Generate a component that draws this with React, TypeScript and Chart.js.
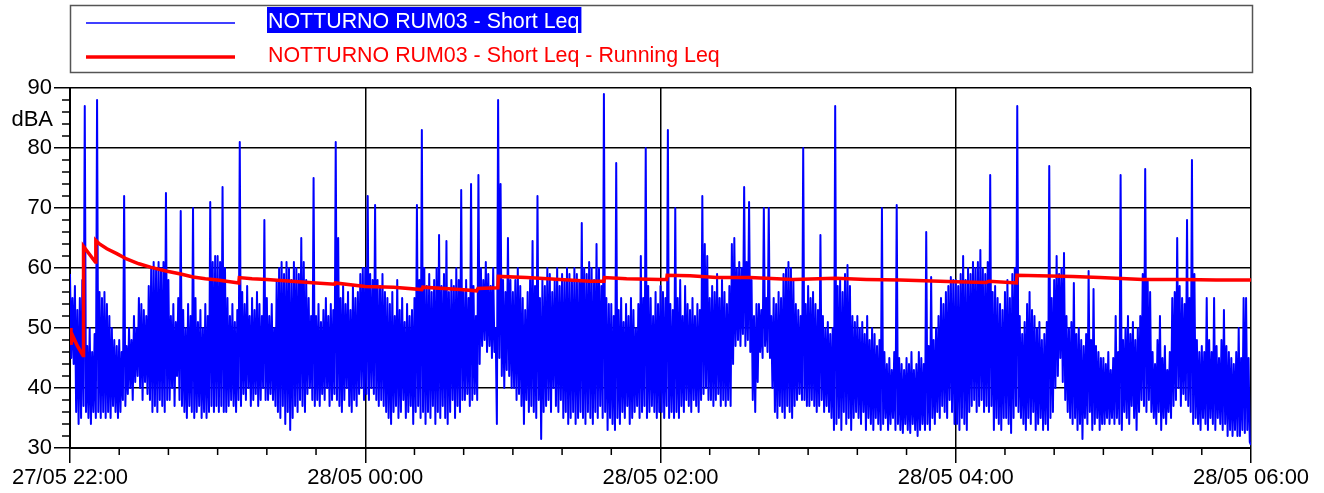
import React, { useEffect, useRef } from "react";
import { Chart, registerables } from "chart.js";

Chart.register(...registerables);

const FONT = '"Liberation Sans", Arial, Helvetica, sans-serif';

const seriesNames = [
  "NOTTURNO RUM03 - Short Leq",
  "NOTTURNO RUM03 - Short Leq - Running Leq",
];
const yUnit = "dBA";
const xTickValues = [0, 120, 240, 360, 480];
const xTickLabels = ["27/05 22:00", "28/05 00:00", "28/05 02:00", "28/05 04:00", "28/05 06:00"];

// Short Leq per minute from 27/05 22:00 (dBA): highest value in the minute
const shortLeqMax = [
  59, 55, 57, 53, 55, 58, 87, 47, 50, 46, 49, 88, 56, 55, 56, 54, 52, 50, 48, 47,
  48, 46, 72, 47, 50, 48, 52, 50, 55, 54, 53, 52, 57, 60, 61, 60, 61, 60, 61, 72.5,
  58, 52, 54, 51, 55, 69.5, 53, 50, 54, 52, 70, 55, 51, 53, 50, 54, 52, 71, 61, 62,
  62, 61, 73.5, 60, 55, 52, 54, 51, 53, 81, 56, 54, 57, 52, 55, 53, 56, 54, 52, 68,
  55, 52, 54, 50, 58, 60, 61, 59, 61, 60, 58, 61, 60, 59, 65, 61, 58, 55, 52, 75,
  52, 54, 51, 53, 55, 52, 54, 53, 81, 65, 55, 57, 54, 56, 53, 57, 55, 56, 59, 60,
  60, 72, 59, 58, 70.5, 58, 57, 59, 56, 55, 54, 56, 52, 58, 53, 55, 51, 54, 52, 53,
  55, 70.5, 58, 83, 60, 57, 59, 56, 58, 60, 65.5, 57, 59, 64.5, 56, 58, 57, 60, 58, 73,
  56, 58, 55, 74, 57, 52, 75.5, 60, 58, 61, 59, 57, 60, 50, 88, 74, 58, 56, 65, 58,
  56, 58, 60, 57, 55, 53, 56, 58, 64.5, 57, 72, 55, 58, 57, 60, 59, 56, 58, 60, 57,
  59, 58, 60, 59, 58, 60, 59, 58, 67.5, 60, 59, 61, 60, 58, 64, 60, 57, 89, 55, 54,
  54, 52, 77.5, 53, 55, 51, 54, 52, 55, 53, 50, 54, 62, 55, 80, 57, 55, 52, 56, 54,
  57, 56, 55, 83, 54, 53, 70, 55, 58, 52, 57, 54, 53, 55, 52, 54, 53, 72, 64, 62,
  55, 57, 56, 59, 55, 58, 56, 54, 57, 64, 65, 60, 61, 60, 73.5, 61, 71, 58, 52, 54,
  54, 53, 70, 55, 70, 52, 55, 54, 56, 55, 59, 60, 61, 60, 58, 54, 53, 52, 80, 54,
  57, 55, 56, 54, 53, 65.5, 52, 50, 51, 49, 50, 87, 57, 58, 56, 59, 60.5, 57, 52, 51,
  52, 50, 51, 49, 52, 48, 50, 49, 47, 48, 70, 46, 44, 45, 43, 46, 70.5, 45, 44, 43,
  45, 44, 46, 43, 44, 46, 45, 44, 66, 47, 58.5, 48, 50, 52, 55, 54, 56, 57, 58.5, 58,
  58, 57, 59, 62, 58, 60, 59, 61, 60, 61, 63, 60, 59, 61, 75.5, 56, 57, 55, 54, 53,
  56, 58, 55, 59, 60, 87, 52, 49, 51, 54, 56, 53, 52, 50, 51, 48, 49, 51, 77, 55,
  58, 62, 59, 60, 62.5, 52, 50, 51, 57.5, 49, 50, 48, 47, 49, 59.5, 48, 56.5, 47, 46, 45,
  45, 44, 46, 43, 45, 52, 46, 75.5, 48, 50, 52, 49, 51, 48, 50, 52, 59, 76.5, 58, 56,
  46, 44, 48, 52, 45, 47, 43, 46, 55, 56, 65, 57, 55, 54, 68, 55, 78, 59, 48, 46,
  47, 46, 55, 48, 46, 55, 47, 45, 48, 53, 47, 46, 45, 44, 46, 50, 45, 55, 55, 45,
];

// Short Leq per minute (dBA): lowest value in the minute
const shortLeqMin = [
  45, 44, 36, 34, 35, 37, 36, 35, 34, 36, 35, 36, 35, 36, 35, 36, 35, 37, 36, 35,
  36, 38, 37, 39, 40, 38, 41, 42, 40, 38, 41, 39, 38, 36, 37, 36, 38, 37, 36, 38,
  38, 40, 37, 42, 38, 37, 36, 35, 37, 36, 35, 36, 37, 35, 36, 35, 36, 37, 36, 37,
  36, 37, 36, 36, 37, 38, 37, 36, 38, 37, 39, 38, 40, 37, 38, 39, 37, 38, 40, 38,
  38, 39, 38, 37, 36, 35, 37, 34, 36, 33, 35, 37, 36, 38, 37, 36, 39, 40, 38, 37,
  38, 37, 39, 38, 40, 37, 38, 39, 38, 37, 36, 38, 40, 37, 36, 38, 37, 39, 40, 38,
  39, 38, 40, 39, 38, 37, 38, 37, 36, 35, 34, 36, 37, 35, 36, 38, 35, 36, 37, 34,
  36, 37, 35, 36, 34, 36, 35, 37, 34, 36, 35, 37, 35, 34, 36, 38, 35, 37, 36, 38,
  38, 39, 37, 38, 39, 38, 44, 47, 48, 46, 47, 45, 46, 34, 45, 42, 40, 43, 42, 40,
  40, 38, 39, 37, 34, 38, 36, 37, 36, 35, 38, 31.5, 36, 37, 38, 36, 40, 37, 36, 38,
  35, 36, 34, 35, 36, 34, 35, 36, 35, 34, 36, 35, 34, 36, 35, 37, 35, 36, 33, 35,
  34, 33, 35, 34, 36, 35, 37, 34, 35, 36, 37, 35, 36, 37, 35, 36, 37, 36, 35, 36,
  36, 35, 37, 35, 36, 35, 36, 35, 37, 36, 38, 37, 36, 38, 37, 36, 38, 39, 40, 38,
  38, 37, 38, 39, 37, 38, 37, 38, 37, 44, 47, 48, 47, 49, 47, 48, 46, 38, 36, 41,
  46, 45, 47, 46, 45, 40, 36, 35, 37, 36, 35, 37, 36, 35, 37, 38, 39, 38, 38, 37,
  37, 38, 37, 36, 37, 38, 36, 37, 36, 35, 33, 34, 35, 33, 36, 34, 35, 33, 35, 36,
  35, 34, 36, 33, 35, 34, 33, 35, 34, 33, 34, 35, 33, 34, 35, 33, 34, 33, 32.5, 34,
  33, 32.5, 34, 33, 32, 33, 34, 33, 34, 33, 35, 34, 36, 35, 37, 36, 35, 38, 36, 34,
  34, 33, 35, 34, 33, 36, 37, 38, 36, 37, 38, 36, 37, 36, 37, 33, 35, 34, 33, 35,
  35, 34, 32.5, 35, 37, 36, 35, 34, 33, 35, 34, 36, 33, 34, 35, 33, 34, 33, 35, 36,
  40, 42, 45, 41, 38, 36, 35, 34, 35, 33, 34, 31.5, 35, 34, 36, 33, 34, 35, 33, 34,
  34, 35, 34, 35, 34, 35, 34, 33, 36, 35, 34, 37, 35, 33, 36, 38, 37, 36, 38, 36,
  35, 34, 36, 33, 35, 34, 36, 35, 37, 38, 40, 37, 39, 38, 37, 36, 34, 35, 34, 33,
  35, 34, 33, 35, 34, 33, 35, 34, 33, 34, 32, 33, 32, 33, 32, 32, 33, 32.5, 33, 31,
];
const shortLeqLast = 30.5; // value at 06:00

// Running Leq breakpoints (minutes from 22:00, dBA)
const runMin = [
  0, 0.4, 1, 3, 5.3, 5.5, 10.3, 10.5, 12, 15, 19, 23, 28, 33, 39, 45, 50, 55, 60, 68.6,
  68.8, 74, 80, 90, 100, 107.6, 107.8, 120, 131.5, 143, 143.4, 158.6, 165.3, 165.8, 173.9,
  174.1, 185.6, 199.2, 211.3, 217, 217.2, 226.2, 239.8, 242.5, 242.7, 252, 262.8, 276.3,
  293.9, 311, 323.7, 337.3, 344, 360, 372.4, 373.5, 384.7, 384.9, 407.6, 418.5, 436, 452.3,
  465.8, 480,
];
const runLeq = [
  50, 47.2, 48.8, 47, 45.4, 63.6, 61, 64.6, 64, 63.2, 62.4, 61.5, 60.7, 60.1, 59.5, 59, 58.5, 58.2, 58, 57.5,
  58.4, 58.2, 58.1, 57.8, 57.5, 57.3, 57.5, 56.9, 56.8, 56.4, 56.8, 56.4, 56.2, 56.6, 56.7,
  58.6, 58.4, 58.1, 57.8, 57.8, 58.4, 58.2, 58.1, 58.1, 58.8, 58.7, 58.4, 58.4,
  58.1, 58.3, 58.1, 58, 57.9, 57.7, 57.6, 57.8, 57.5, 58.8, 58.6, 58.4, 58.1, 58.1,
  58, 58,
];

const overlayPlugin = {
  id: "overlay",
  afterDraw(chart: any) {
    const { ctx, chartArea, scales } = chart;
    const xs = scales.x;
    const ys = scales.y;
    ctx.save();
    // minor ticks
    ctx.strokeStyle = "#000";
    ctx.lineWidth = 1.5;
    ctx.beginPath();
    for (let v = 32; v < 90; v += 2) {
      if (v % 10 === 0) continue;
      const y = ys.getPixelForValue(v);
      ctx.moveTo(chartArea.left - 8, y);
      ctx.lineTo(chartArea.left, y);
    }
    for (let m = 20; m < 480; m += 20) {
      if (m % 120 === 0) continue;
      const x = xs.getPixelForValue(m);
      ctx.moveTo(x, chartArea.bottom);
      ctx.lineTo(x, chartArea.bottom + 7);
    }
    ctx.stroke();

    // unit label
    ctx.font = `22px ${FONT}`;
    ctx.fillStyle = "#000";
    ctx.textAlign = "right";
    ctx.textBaseline = "alphabetic";
    ctx.fillText(yUnit, chartArea.left - 17, ys.getPixelForValue(85) + 8);

    // legend box
    const lx = chartArea.left;
    const lw = chartArea.right - chartArea.left + 1;
    ctx.strokeStyle = "#555";
    ctx.lineWidth = 1.5;
    ctx.strokeRect(lx + 0.5, 5.5, lw, 67);

    ctx.font = `21.4px ${FONT}`;
    // blue entry
    ctx.strokeStyle = "#0000ff";
    ctx.lineWidth = 1.5;
    ctx.beginPath();
    ctx.moveTo(lx + 16, 23);
    ctx.lineTo(lx + 165, 23);
    ctx.stroke();
    ctx.textAlign = "left";
    const w0 = ctx.measureText(seriesNames[0]).width;
    ctx.fillStyle = "#0000ff";
    ctx.fillRect(lx + 197, 7, w0 + 3, 26);
    ctx.fillStyle = "#ffffff";
    ctx.fillText(seriesNames[0], lx + 198, 28);

    // red entry
    ctx.strokeStyle = "#ff0000";
    ctx.lineWidth = 3.5;
    ctx.beginPath();
    ctx.moveTo(lx + 16, 57);
    ctx.lineTo(lx + 165, 57);
    ctx.stroke();
    ctx.fillStyle = "#ff0000";
    ctx.fillText(seriesNames[1], lx + 198, 62);
    ctx.restore();
  },
};

export default function App() {
  const canvasRef = useRef<HTMLCanvasElement | null>(null);

  useEffect(() => {
    if (!canvasRef.current) return;
    const bluePoints: { x: number; y: number }[] = [];
    shortLeqMax.forEach((hi, i) => {
      bluePoints.push({ x: i, y: hi });
      bluePoints.push({ x: i + 0.5, y: shortLeqMin[i] });
    });
    bluePoints.push({ x: shortLeqMax.length, y: shortLeqLast });

    const chart = new Chart(canvasRef.current, {
      type: "line",
      data: {
        datasets: [
          {
            label: seriesNames[1],
            data: runMin.map((m, i) => ({ x: m, y: runLeq[i] })),
            borderColor: "#ff0000",
            borderWidth: 3.5,
            pointRadius: 0,
            tension: 0,
          },
          {
            label: seriesNames[0],
            data: bluePoints,
            borderColor: "#0000ff",
            borderWidth: 2,
            borderJoinStyle: "round",
            pointRadius: 0,
            tension: 0,
          },
        ],
      },
      options: {
        animation: false,
        responsive: false,
        devicePixelRatio: 1,
        events: [],
        layout: { padding: { top: 88, right: 73, left: 0, bottom: 0 } },
        plugins: {
          legend: { display: false },
          tooltip: { enabled: false },
          title: { display: false },
        },
        scales: {
          x: {
            type: "linear",
            min: 0,
            max: 480,
            afterFit: (s: any) => {
              s.height = 45;
            },
            afterBuildTicks: (s: any) => {
              s.ticks = xTickValues.map((v) => ({ value: v }));
            },
            ticks: {
              autoSkip: false,
              maxRotation: 0,
              padding: 2,
              color: "#000",
              font: { family: FONT, size: 22 },
              callback: (v: any) => xTickLabels[xTickValues.indexOf(Number(v))] ?? "",
            },
            grid: { color: "#000", lineWidth: 1.5, tickLength: 15 },
            border: { color: "#000", width: 2 },
          },
          y: {
            type: "linear",
            min: 30,
            max: 90,
            afterFit: (s: any) => {
              s.width = 70;
            },
            ticks: {
              stepSize: 10,
              padding: 2,
              color: "#000",
              font: { family: FONT, size: 22 },
            },
            grid: { color: "#000", lineWidth: 1.5, tickLength: 16 },
            border: { color: "#000", width: 2 },
          },
        },
      },
      plugins: [overlayPlugin],
    });
    return () => chart.destroy();
  }, []);

  return (
    <div style={{ position: "absolute", left: 0, top: 0, width: 1324, height: 493, background: "#fff" }}>
      <canvas ref={canvasRef} width={1324} height={493} style={{ display: "block" }} />
    </div>
  );
}
